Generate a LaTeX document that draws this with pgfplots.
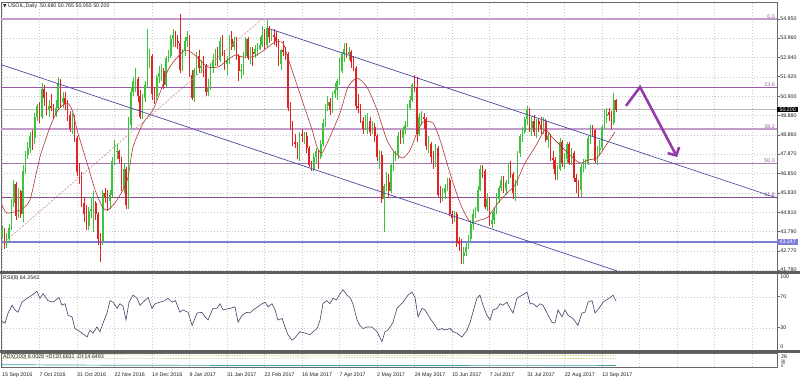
\documentclass[border=0pt]{standalone}
\usepackage{fontspec}
\setmainfont{Liberation Sans}
\newfontfamily\djvfont{DejaVu Sans}
\usepackage{pgfplots}
\pgfplotsset{compat=1.18}
\usepackage{pgfplotstable}
\usetikzlibrary{arrows.meta}
\definecolor{bull}{RGB}{60,195,60}
\definecolor{bear}{RGB}{225,35,35}
\definecolor{mac}{RGB}{180,55,55}
\definecolor{chan}{RGB}{75,75,165}
\definecolor{fib}{RGB}{150,90,160}
\definecolor{fibl}{RGB}{195,155,205}
\definecolor{lvl}{RGB}{125,125,215}
\definecolor{arr}{RGB}{150,60,170}
\definecolor{gridc}{RGB}{200,200,200}
\definecolor{frame}{RGB}{105,105,105}
\definecolor{sep}{RGB}{95,95,95}
\definecolor{rsic}{RGB}{65,65,105}
\definecolor{txt}{RGB}{30,30,30}
\definecolor{bidc}{RGB}{185,185,185}
\definecolor{dashc}{RGB}{205,140,140}
\definecolor{dip}{RGB}{205,200,100}
\definecolor{dim}{RGB}{175,200,120}
\definecolor{adxc}{RGB}{60,160,160}
\newcommand{\f}{\fontsize{5.3bp}{6bp}\selectfont}

\pgfplotstableread{
i o h l c
0 43.60 44.10 43.40 43.90
1 43.90 44.00 42.90 43.10
2 43.10 43.70 42.95 43.40
3 43.40 44.20 43.20 44.00
4 44.00 45.50 43.90 45.30
5 45.30 46.50 45.10 46.30
6 46.30 46.40 44.40 44.60
7 44.60 46.10 44.50 45.90
8 45.90 46.00 44.50 44.70
9 44.70 47.30 44.30 47.00
10 47.00 48.00 46.80 47.80
11 47.80 48.50 47.60 48.20
12 48.20 49.00 47.90 48.80
13 48.80 49.10 48.10 48.70
14 48.70 50.00 48.40 49.80
15 49.80 50.50 49.60 50.40
16 50.40 50.60 49.50 49.80
17 49.80 51.60 49.70 51.30
18 51.30 51.50 50.40 50.80
19 50.80 51.10 49.90 50.20
20 50.20 50.70 49.80 50.40
21 50.40 51.00 50.10 50.30
22 50.30 50.50 49.70 49.90
23 49.90 50.70 49.80 50.30
24 50.30 51.90 50.20 51.60
25 51.60 51.80 50.30 50.60
26 50.60 51.10 50.30 50.80
27 50.80 51.10 50.20 50.50
28 50.50 50.70 49.60 49.90
29 49.90 50.10 49.00 49.20
30 49.20 50.00 48.90 49.70
31 49.70 49.90 48.50 48.70
32 48.70 48.80 46.70 46.90
33 46.90 47.40 46.30 46.70
34 46.70 46.90 45.10 45.30
35 45.30 45.60 44.30 44.70
36 44.70 45.20 43.90 44.10
37 44.10 45.10 43.90 44.90
38 44.90 45.60 44.50 45.00
39 45.00 45.90 43.80 45.30
40 45.30 45.40 44.40 44.70
41 44.70 44.80 43.10 43.40
42 43.40 43.70 42.20 43.30
43 43.30 46.00 43.10 45.80
44 45.80 46.10 45.30 45.60
45 45.60 46.00 44.90 45.40
46 45.40 46.00 45.00 45.70
47 45.70 47.70 45.60 47.50
48 47.50 48.60 47.30 48.00
49 48.00 48.40 47.60 48.05
50 48.00 48.10 47.40 47.60
51 47.60 47.70 45.90 46.10
52 46.10 47.40 45.80 47.10
53 47.10 47.20 45.00 45.20
54 45.20 49.80 45.00 49.40
55 49.40 51.40 49.20 51.10
56 51.10 51.90 50.90 51.70
57 51.70 52.40 51.10 51.80
58 51.80 51.90 50.60 50.90
59 50.90 51.20 49.70 49.80
60 49.80 51.00 49.70 50.80
61 50.80 51.70 50.60 51.50
62 51.50 54.40 51.40 52.80
63 52.80 53.40 52.40 53.00
64 53.00 53.10 50.70 51.00
65 51.00 51.40 50.50 50.90
66 50.90 52.00 50.70 51.90
67 51.90 52.50 51.60 52.10
68 52.10 52.60 51.70 52.20
69 52.20 52.40 51.30 51.50
70 51.50 53.00 51.40 52.90
71 52.90 53.30 52.70 53.00
72 53.00 54.10 52.90 53.90
73 53.90 54.40 53.50 54.10
74 54.10 54.30 53.50 53.80
75 53.80 54.10 53.40 53.70
76 53.70 55.20 52.10 52.30
77 52.30 53.40 52.20 53.30
78 53.30 54.00 53.00 53.80
79 53.80 54.30 53.50 54.00
80 54.00 54.10 51.90 52.00
81 52.00 52.30 50.70 50.80
82 50.80 52.40 50.60 52.30
83 52.30 53.20 52.00 53.00
84 53.00 53.30 52.10 52.40
85 52.40 52.80 52.10 52.50
86 52.55 53.00 51.90 52.45
87 52.50 52.60 50.90 51.10
88 51.10 51.80 50.90 51.40
89 51.40 52.60 51.20 52.40
90 52.40 53.10 52.10 52.80
91 52.80 53.40 52.50 53.20
92 53.20 53.50 52.50 52.80
93 52.80 54.00 52.70 53.80
94 53.80 54.10 53.00 53.20
95 53.20 53.30 52.30 52.60
96 52.60 53.00 52.00 52.80
97 52.80 54.10 52.60 53.90
98 53.90 54.30 53.30 53.50
99 53.50 54.00 53.30 53.80
100 53.80 54.00 52.80 53.00
101 53.00 53.10 51.70 52.20
102 52.20 52.60 51.80 52.30
103 52.30 53.20 52.00 53.00
104 53.00 54.00 52.90 53.90
105 53.90 54.00 52.80 52.90
106 52.90 53.50 52.60 53.20
107 53.20 53.50 52.50 53.10
108 53.10 53.60 52.90 53.40
109 53.40 53.70 53.00 53.45
110 53.40 54.00 53.30 53.60
111 53.60 54.60 53.50 54.10
112 54.10 54.40 53.30 53.60
113 53.60 54.90 53.50 54.50
114 54.50 54.60 53.70 54.00
115 54.00 54.40 53.80 54.10
116 54.10 54.40 53.60 54.00
117 54.00 54.30 53.50 53.80
118 53.80 53.90 52.50 52.60
119 52.60 53.40 52.30 53.30
120 53.30 53.80 53.00 53.20
121 53.20 53.50 52.80 53.10
122 53.10 53.20 50.10 50.30
123 50.30 50.60 49.10 49.30
124 49.30 49.60 48.30 48.50
125 48.50 48.90 48.20 48.40
126 48.40 48.50 47.60 47.70
127 47.70 49.00 47.50 48.90
128 48.90 49.20 48.50 48.80
129 48.80 49.00 48.40 48.85
130 48.80 49.00 47.90 48.20
131 48.20 48.30 47.20 47.30
132 47.30 47.50 46.95 47.05
133 47.05 47.90 46.95 47.70
134 47.70 48.20 47.40 48.00
135 48.00 48.10 47.10 47.70
136 47.70 48.60 47.60 48.40
137 48.40 49.70 48.30 49.50
138 49.50 50.50 49.30 50.40
139 50.40 50.90 50.10 50.60
140 50.60 50.80 49.90 50.20
141 50.20 51.10 50.00 51.00
142 51.00 51.60 50.80 51.20
143 51.20 51.80 50.70 51.70
144 51.70 52.90 51.50 52.20
145 52.20 53.20 52.10 53.10
146 53.10 53.70 52.70 53.40
147 53.40 53.70 52.90 53.10
148 53.10 53.50 52.80 53.20
149 53.20 53.30 52.40 52.70
150 52.70 53.00 52.20 52.40
151 52.40 52.50 50.20 50.40
152 50.40 51.00 50.00 50.30
153 50.30 50.50 49.50 49.60
154 49.60 49.80 48.90 49.20
155 49.20 49.90 49.10 49.60
156 49.55 50.00 48.90 49.65
157 49.60 49.80 48.80 49.00
158 49.00 49.60 48.90 49.30
159 49.30 49.50 48.50 48.80
160 48.80 48.90 47.50 47.70
161 47.70 48.10 47.10 47.80
162 47.80 48.00 45.30 45.50
163 45.50 46.30 43.80 46.20
164 46.20 46.90 45.90 46.40
165 46.40 46.80 45.60 45.90
166 45.90 47.40 45.80 47.30
167 47.30 48.00 47.00 47.80
168 47.80 48.00 47.50 47.85
169 47.85 49.00 47.60 48.80
170 48.80 49.10 48.40 48.70
171 48.70 49.30 48.40 49.10
172 49.10 49.60 48.90 49.40
173 49.40 50.50 49.30 50.30
174 50.30 50.90 50.20 50.70
175 50.70 51.60 50.60 51.50
176 51.50 52.00 51.10 51.40
177 51.40 51.90 48.50 48.90
178 48.90 50.00 48.80 49.80
179 49.80 50.10 49.40 49.85
180 49.80 50.00 49.20 49.70
181 49.70 49.80 48.10 48.30
182 48.30 48.80 47.90 48.40
183 48.40 48.50 47.40 47.70
184 47.70 48.00 47.10 47.40
185 47.40 48.40 47.20 48.20
186 48.20 48.30 45.60 45.70
187 45.70 46.20 45.30 45.60
188 45.60 46.10 45.40 45.80
189 45.80 46.30 45.50 46.10
190 46.10 46.60 45.90 46.50
191 46.50 46.60 44.60 44.70
192 44.70 44.90 44.20 44.50
193 44.50 44.90 44.30 44.70
194 44.70 44.80 43.00 43.20
195 43.30 43.50 42.80 43.15
196 43.15 43.40 42.10 42.50
197 42.50 43.00 42.10 42.70
198 42.70 43.20 42.50 43.00
199 43.00 43.60 42.90 43.40
200 43.40 44.40 43.30 44.20
201 44.20 45.00 43.90 44.70
202 44.70 45.10 44.50 44.90
203 44.90 46.20 44.80 46.00
204 46.00 47.30 45.90 47.10
205 47.10 47.30 46.60 47.00
206 47.00 47.10 45.00 45.10
207 45.10 45.80 44.90 45.50
208 45.50 45.60 44.10 44.20
209 44.20 44.80 44.00 44.40
210 44.40 45.10 44.20 44.90
211 44.90 45.80 44.70 45.50
212 45.50 46.20 45.30 46.10
213 46.10 46.70 45.90 46.50
214 46.50 46.70 45.80 46.00
215 46.00 46.50 45.70 46.40
216 46.40 47.40 46.30 47.10
217 47.10 47.50 46.60 46.80
218 46.80 46.90 45.50 45.80
219 45.80 46.50 45.40 46.30
220 46.30 48.00 46.20 47.90
221 47.90 48.90 47.70 48.80
222 48.80 49.30 48.50 49.00
223 49.00 49.80 48.90 49.70
224 49.70 50.40 49.40 50.20
225 50.20 50.30 49.00 49.20
226 49.20 49.80 48.80 49.60
227 49.60 49.90 48.80 49.00
228 49.00 49.70 48.70 49.60
229 49.60 49.70 49.00 49.40
230 49.40 49.80 48.90 49.20
231 49.20 49.80 48.90 49.60
232 49.60 49.70 48.50 48.60
233 48.60 49.00 48.20 48.80
234 48.80 48.90 47.50 47.60
235 47.65 48.00 47.10 47.55
236 47.55 47.70 46.50 46.80
237 46.80 47.30 46.50 47.10
238 47.10 48.70 47.00 48.50
239 48.50 48.60 47.20 47.40
240 47.40 47.90 47.10 47.60
241 47.60 48.50 47.40 48.40
242 48.40 48.50 47.30 47.40
243 47.40 48.20 47.30 47.90
244 47.90 48.00 46.40 46.60
245 46.60 46.80 45.80 46.40
246 46.40 46.50 45.60 46.00
247 46.00 47.40 45.60 47.20
248 47.20 47.60 46.90 47.30
249 47.30 47.60 47.10 47.40
250 47.40 48.80 47.30 48.70
251 48.70 49.40 48.40 49.20
252 49.20 49.40 48.80 49.10
253 49.10 49.20 47.40 47.50
254 47.50 48.30 47.30 48.10
255 48.10 48.60 47.80 48.20
256 48.20 49.40 48.00 49.30
257 49.30 50.20 49.20 49.90
258 49.85 50.30 49.50 49.95
259 50.05 50.30 49.60 49.90
260 49.90 50.10 49.20 49.50
261 49.50 51.05 49.40 50.70
262 50.68 50.765 50.055 50.20
}\ohlc

\pgfplotsset{
  panel/.style={
    scale only axis, width=776bp, xmin=-0.427, xmax=330.63,
    axis line style={draw=frame, line width=0.7bp},
    ytick pos=right, yticklabel pos=right, tick align=outside,
    major tick length=2.5bp,
    tick style={draw=frame, line width=0.5bp},
    yticklabel style={font=\f, text=txt, inner sep=0.6bp},
    xtick={0,16,...,320}, xticklabels={}, xtick style={draw=none},
    grid style={draw=gridc, line width=0.45bp, dash pattern=on 1.3bp off 1.7bp},
    clip mode=individual,
  },
  wick/.style={draw=none, mark=none, error bars/.cd, y dir=plus, y explicit, error mark=none, error bar style={draw=#1, line width=0.65bp}},
  body/.style={draw=none, mark=none, error bars/.cd, y dir=plus, y explicit, error mark=none, error bar style={draw=#1, line width=1.6bp}},
}

\begin{document}
\begin{tikzpicture}
\fill[white] (0bp,0bp) rectangle (800bp,381bp);
\useasboundingbox (0bp,0bp) rectangle (800bp,381bp);

% ---------------- main price panel
\begin{axis}[panel, at={(1bp,110bp)}, anchor=south west, height=269bp,
  ymin=41.728, ymax=55.842, xmajorgrids, ymajorgrids,
  ytick={54.950,53.960,52.940,51.920,50.900,49.880,48.860,47.870,46.850,45.830,44.810,43.790,42.770,41.780},
  yticklabels={54.950,53.960,52.940,51.920,50.900,49.880,48.860,47.870,46.850,45.830,44.810,43.790,42.770,41.780}]
% fibonacci levels and horizontal lines
\addplot[fibl, line width=1.5bp] coordinates {(-0.427,54.95) (330.63,54.95)};
\addplot[fib, line width=0.9bp] coordinates {(-0.427,51.382) (330.63,51.382)};
\addplot[fibl, line width=1.6bp] coordinates {(-0.427,49.174) (330.63,49.174)};
\addplot[fib!85, line width=0.9bp] coordinates {(-0.427,47.39) (330.63,47.39)};
\addplot[fib!90!black, line width=0.9bp] coordinates {(-0.427,45.606) (330.63,45.606)};
\addplot[lvl, line width=1.6bp] coordinates {(-0.427,43.247) (330.63,43.247)};
\addplot[bidc, line width=0.6bp] coordinates {(-0.427,50.20) (330.63,50.20)};
% candles: wicks
\addplot[restrict expr to domain={\thisrow{c}-\thisrow{o}}{0:100}, wick=bull]
  table[x=i, y=l, y error plus expr={\thisrow{h}-\thisrow{l}}]{\ohlc};
\addplot[restrict expr to domain={\thisrow{c}-\thisrow{o}}{-100:-0.0001}, wick=bear]
  table[x=i, y=l, y error plus expr={\thisrow{h}-\thisrow{l}}]{\ohlc};
% candles: bodies
\addplot[restrict expr to domain={\thisrow{c}-\thisrow{o}}{0:100}, body=bull]
  table[x=i, y expr={min(\thisrow{o},\thisrow{c})}, y error plus expr={max(abs(\thisrow{c}-\thisrow{o}),0.04)}]{\ohlc};
\addplot[restrict expr to domain={\thisrow{c}-\thisrow{o}}{-100:-0.0001}, body=bear]
  table[x=i, y expr={min(\thisrow{o},\thisrow{c})}, y error plus expr={max(abs(\thisrow{c}-\thisrow{o}),0.04)}]{\ohlc};
% moving average
\addplot[mac, line width=0.6bp, smooth, tension=0.4] coordinates {
(0,45.19) (2.1,44.77) (7.7,44.93) (11.9,45.45) (16.2,47.71) (20.5,49.28) (23.9,50.18) (27.7,50.54) (29.9,50.18) (32.4,48.97) (36.3,47.39) (39.7,45.98) (43.1,45.03) (45.2,44.93) (48.2,45.30) (51.6,45.98) (53.8,46.66) (55.9,48.23) (60.2,49.49) (64.4,50.18) (68.3,51.38) (70.8,52.27) (73.8,52.80) (78.1,53.32) (81.1,53.17) (83.6,52.90) (87.9,52.43) (92.2,52.43) (95.1,52.69) (99.4,53.06) (102.4,52.96) (106.7,52.96) (110.1,53.17) (113.5,53.48) (116.5,53.74) (119.9,53.69) (122,52.90) (128,50.70) (132.3,49.13) (134.4,48.23) (136.5,47.92) (139.9,48.76) (144.2,50.02) (147.6,51.38) (151.5,51.85) (155.7,51.38) (160,50.18) (164.2,48.60) (167.7,47.92) (171.1,47.66) (174.1,48.08) (177,48.97) (179.6,49.55) (183.9,49.49) (186.9,48.60) (191.1,46.87) (195.4,45.30) (199.7,44.30) (203.9,44.40) (207.3,44.56) (211.6,45.30) (215.9,45.87) (218.9,46.24) (223.1,47.39) (227.4,48.23) (231.7,49.13) (234.6,48.76) (238.9,48.23) (243.2,47.71) (246.6,47.39) (250,47.55) (253.8,47.66) (257.2,48.23) (261.5,49.02)};
% channel and trend lines
\addplot[chan, line width=0.7bp] coordinates {(114.3,54.43) (330.63,45.56)};
\addplot[chan, line width=0.7bp] coordinates {(-0.427,52.56) (262.4,41.73)};
\addplot[dashc, line width=0.6bp, dash pattern=on 2bp off 1.5bp] coordinates {(-0.427,43.09) (110.9,54.95)};
% arrow
\addplot[arr, line width=2.6bp, -{Straight Barb[length=6bp,width=13bp]}] coordinates {(266.2,50.39) (272.2,51.38) (288,47.71)};
% level labels
\node[anchor=south east, font=\f, text=fib, inner sep=0.6bp] at (axis cs:330.0,54.95) {0.0};
\node[anchor=south east, font=\f, text=fib, inner sep=0.6bp] at (axis cs:330.0,51.382) {23.6};
\node[anchor=south east, font=\f, text=fib, inner sep=0.6bp] at (axis cs:330.0,49.174) {38.2};
\node[anchor=south east, font=\f, text=fib, inner sep=0.6bp] at (axis cs:330.0,47.39) {50.0};
\node[anchor=south east, font=\f, text=fib, inner sep=0.6bp] at (axis cs:330.0,45.606) {61.8};
\node[anchor=west, font=\f, fill=black, text=white, inner sep=0.7bp, minimum width=21bp] at (axis cs:330.63,50.20) {50.200};
\node[anchor=west, font=\f, fill=lvl, text=white, inner sep=0.7bp, minimum width=21bp] at (axis cs:330.63,43.247) {43.247};
\end{axis}

% ---------------- RSI panel
\begin{axis}[panel, at={(1bp,30bp)}, anchor=south west, height=77.5bp,
  ymin=0, ymax=100, xmajorgrids, ymajorgrids, ytick={30,70}, yticklabels={30,70}]
\addplot[rsic, line width=0.6bp] coordinates {
(0,38) (1.3,36) (2.6,49) (4.3,59) (5.5,53) (6.8,50) (8.5,63) (10.7,68) (12.8,72) (14.9,77) (16.2,68) (17.5,74) (19.6,65) (21.8,63) (24.3,69) (25.6,59) (26.9,61) (28.2,46) (29.9,44) (31.1,29) (33.3,25) (36.3,18) (37.5,27) (38.8,23) (40.5,31) (41.8,25) (43.1,36) (44.8,49) (46.1,65) (47.4,63) (49.1,55) (50.3,61) (51.6,58) (52.9,40) (54.2,63) (55.9,72) (57.6,68) (58.9,59) (60.2,63) (62.3,69) (64,55) (65.3,61) (67.4,63) (69.5,65) (70.8,68) (72.5,63) (74,65) (75.9,50) (77.2,53) (79.4,50) (81.1,33) (83.2,49) (85.3,50) (86.6,44) (87.9,40) (90,55) (91.7,55) (93,61) (94.3,53) (97.3,55) (99.4,57) (100.7,37) (102.4,46) (104.5,50) (105.8,49) (107.1,53) (109.2,57) (110.9,61) (112.2,63) (113.5,57) (115.2,61) (116.5,53) (117.7,40) (119.5,42) (120.7,31) (122,21) (123.7,14) (125,17) (127.1,25) (129.3,23) (131.4,21) (132.7,25) (134.4,29) (135.7,40) (136.9,61) (138.6,65) (139.9,61) (141.2,68) (142.7,66) (144.2,74) (145.5,79) (147.2,72) (148.5,69) (149.7,61) (151.5,40) (152.7,33) (154,29) (155.7,31) (157.8,31) (160,25) (162.1,12) (163.4,25) (164.7,27) (166.8,37) (168.5,55) (169.8,59) (171.1,63) (173.2,72) (174.9,76) (176.2,69) (177.5,44) (179.2,55) (180.5,53) (182.6,42) (183.9,37) (186,27) (187.7,29) (189,27) (191.1,29) (192.4,25) (194.1,23) (196.2,18) (198.4,27) (199.7,37) (200.9,50) (202.6,68) (203.9,72) (205.2,59) (206.9,46) (208.2,40) (209.5,53) (211.2,55) (212.5,61) (213.7,59) (215.4,63) (216.8,55) (218,49) (219.7,68) (221.8,72) (224,76) (225.3,61) (226.6,61) (228.2,57) (229.5,61) (230.8,59) (232.5,49) (234.6,37) (235.9,36) (237.2,53) (238.9,44) (240.2,53) (241.5,46) (243.6,42) (245.7,33) (247.4,49) (248.7,50) (250,63) (251.7,65) (253,49) (255.1,57) (256.4,63) (258.5,67) (260.7,72) (262,64.25)};
\node[anchor=west, font=\f, text=txt, inner sep=0.6bp, xshift=2.5bp] at (axis cs:330.63,96) {100};
\node[anchor=west, font=\f, text=txt, inner sep=0.6bp, xshift=2.5bp] at (axis cs:330.63,5) {0};
\end{axis}

% ---------------- ADX panel
\begin{axis}[panel, at={(1bp,14bp)}, anchor=south west, height=14bp,
  ymin=6, ymax=24, ytick=\empty,
  xtick={0,16,...,256},
  xticklabels={15 Sep 2016,7 Oct 2016,31 Oct 2016,22 Nov 2016,14 Dec 2016,9 Jan 2017,31 Jan 2017,22 Feb 2017,16 Mar 2017,7 Apr 2017,2 May 2017,24 May 2017,15 Jun 2017,7 Jul 2017,31 Jul 2017,22 Aug 2017,13 Sep 2017},
  xticklabel style={anchor=north west, font=\f, text=txt, inner sep=0pt, yshift=-3.2bp},
  xmajorgrids,
  extra x ticks={272,288,304,320}, extra x tick labels={},
  extra x tick style={grid=major, tick style={draw=none}}]
\addplot[dip, line width=0.6bp, dash pattern=on 0.8bp off 0.8bp] coordinates {(0,21.5) (40,22) (80,21) (120,20.5) (160,20.5) (200,21) (240,20.8) (262,20.7)};
\addplot[dim, line width=0.6bp, dash pattern=on 0.8bp off 0.8bp] coordinates {(0,17) (40,16.5) (80,17) (120,17.5) (160,18) (200,17.5) (240,17) (262,16.6)};
\addplot[adxc, line width=0.7bp] coordinates {(0,9.0) (30,8.5) (60,8.2) (120,7.9) (200,7.8) (250,7.7) (262,8.0)};
\end{axis}

% separators
\draw[sep, line width=2.4bp] (0bp,108.6bp) -- (800bp,108.6bp);
\draw[sep, line width=2.4bp] (0bp,29.4bp) -- (800bp,29.4bp);

% texts
\node[anchor=west, font=\f, text=txt, inner sep=0pt] at (3bp,375bp) {{\djvfont\fontsize{4.5bp}{5bp}\selectfont ▼} USOIL,Daily\ \ 50.680 50.765 50.055 50.200};
\node[anchor=west, font=\f, text=txt, inner sep=0pt] at (3bp,102.5bp) {RSI(8) 64.2543};
\node[anchor=west, font=\f, text=txt, inner sep=0pt] at (3bp,24bp) {ADX(100) 8.0028 +DI:20.6631 -DI:14.6493};
\node[anchor=west, font=\f, text=txt, inner sep=0pt] at (781bp,24bp) {26};
\node[anchor=west, font=\fontsize{3.6bp}{4bp}\selectfont, text=txt, inner sep=0pt] at (781bp,20bp) {20};
\node[anchor=west, font=\fontsize{3.6bp}{4bp}\selectfont, text=txt, inner sep=0pt] at (781bp,17.5bp) {15};
\node[anchor=west, font=\fontsize{3.6bp}{4bp}\selectfont, text=txt, inner sep=0pt] at (781bp,15bp) {8};
\end{tikzpicture}
\end{document}
